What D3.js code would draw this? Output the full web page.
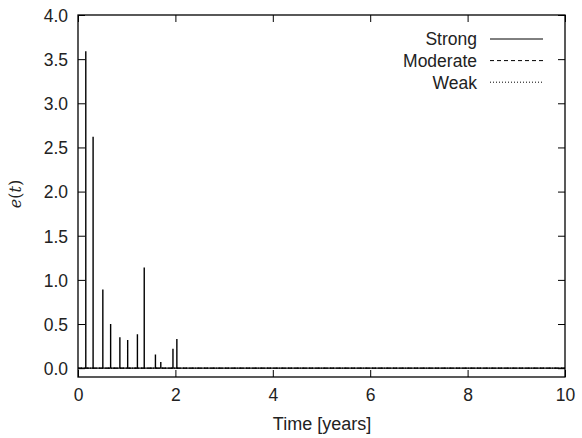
<!DOCTYPE html>
<html><head><meta charset="utf-8">
<script src="https://cdn.jsdelivr.net/npm/d3@7"></script>
<style>body{margin:0;background:#fff}svg{display:block}</style>
</head><body>
<script>
const spikeTimes = [0.16, 0.31, 0.51, 0.67, 0.86, 1.02, 1.22, 1.36, 1.59, 1.70, 1.95, 2.03];
const strongValues = [3.59, 2.62, 0.89, 0.50, 0.35, 0.32, 0.385, 1.14, 0.155, 0.07, 0.22, 0.33];
const moderateTimes = [0, 10];
const moderateValues = [0, 0];
const weakTimes = [0, 10];
const weakValues = [0, 0];
const xTicks = [0, 2, 4, 6, 8, 10];
const yTicks = [0.0, 0.5, 1.0, 1.5, 2.0, 2.5, 3.0, 3.5, 4.0];
const seriesNames = ["Strong", "Moderate", "Weak"];

const W = 582, H = 438;
const L = 78, R = 565, T = 15, B = 377;
const svg = d3.select("body").append("svg").attr("width", W).attr("height", H);
const x = d3.scaleLinear().domain([0, 10]).range([L, R]);
const y = d3.scaleLinear().domain([-0.1, 4.0]).range([B, T]);
const font = "'Liberation Sans', Arial, Helvetica, sans-serif";
const fs = 17.5;

const strongPts = [[0, 0]];
spikeTimes.forEach((t, i) => { strongPts.push([t, 0], [t, strongValues[i]], [t, 0]); });
strongPts.push([10, 0]);
const line = d3.line().x(d => x(d[0])).y(d => y(d[1]));

const g = svg.append("g");
g.append("path").datum(weakTimes.map((t, i) => [t, weakValues[i]]))
  .attr("d", line).attr("fill", "none").attr("stroke", "#000").attr("stroke-width", 1)
  .attr("stroke-dasharray", "1,2");
g.append("path").datum(moderateTimes.map((t, i) => [t, moderateValues[i]]))
  .attr("d", line).attr("fill", "none").attr("stroke", "#000").attr("stroke-width", 1)
  .attr("stroke-dasharray", "4,3");
g.append("path").datum(strongPts)
  .attr("d", line).attr("fill", "none").attr("stroke", "#000").attr("stroke-width", 1.4);

const tickLen = 7;
const axB = d3.axisBottom(x).tickValues(xTicks).tickSize(-tickLen).tickFormat(d3.format("d"));
const axT = d3.axisTop(x).tickValues(xTicks).tickSize(-tickLen).tickFormat("");
const axL = d3.axisLeft(y).tickValues(yTicks).tickSize(-tickLen).tickFormat(d3.format(".1f"));
const axR = d3.axisRight(y).tickValues(yTicks).tickSize(-tickLen).tickFormat("");
[[axB, `translate(0,${B})`, "b"], [axT, `translate(0,${T})`, "t"], [axL, `translate(${L},0)`, "l"], [axR, `translate(${R},0)`, "r"]].forEach(([a, tr, k]) => {
  const ag = svg.append("g").attr("transform", tr).call(a);
  ag.select(".domain").remove();
  ag.selectAll("line").attr("stroke", "#000").attr("stroke-width", 1);
  const tx = ag.selectAll("text").attr("font-family", font).attr("font-size", fs).attr("fill", "#222");
  if (k === "b") tx.attr("y", 0).attr("dy", null).attr("transform", "translate(0,24)");
  if (k === "l") tx.attr("x", 0).attr("dy", null).attr("dominant-baseline", null)
    .attr("transform", "translate(-10,6.3)");
});
svg.append("rect").attr("x", L).attr("y", T).attr("width", R - L).attr("height", B - T)
  .attr("fill", "none").attr("stroke", "#000").attr("stroke-width", 1.3);

svg.append("text").attr("x", 322).attr("y", 429.5).attr("text-anchor", "middle")
  .attr("font-family", font).attr("font-size", 18).attr("fill", "#222").text("Time [years]");
const yl = svg.append("text").attr("transform", `translate(21,194) rotate(-90)`)
  .attr("text-anchor", "middle").attr("font-family", "'DejaVu Serif', serif").attr("font-size", 16).attr("fill", "#222");
yl.append("tspan").attr("font-style", "italic").text("e");
yl.append("tspan").text("(");
yl.append("tspan").attr("font-style", "italic").text("t");
yl.append("tspan").text(")");

const dashes = [null, "4,3", "1,2"];
seriesNames.forEach((n, i) => {
  const yy = 39 + i * 21.6;
  svg.append("text").attr("x", 477).attr("y", yy + 6.3).attr("text-anchor", "end")
    .attr("font-family", font).attr("font-size", fs).attr("fill", "#222").text(n);
  svg.append("line").attr("x1", 490).attr("x2", 543).attr("y1", yy).attr("y2", yy)
    .attr("stroke", "#000").attr("stroke-width", 1).attr("stroke-dasharray", dashes[i]);
});
</script>
</body></html>
